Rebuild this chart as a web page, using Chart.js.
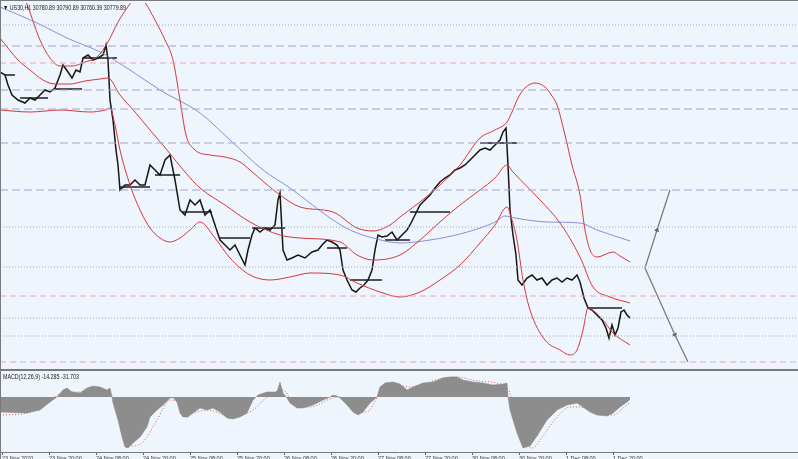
<!DOCTYPE html>
<html>
<head>
<meta charset="utf-8">
<script src="https://cdn.jsdelivr.net/npm/chart.js@4.4.1/dist/chart.umd.min.js"></script>
<style>
  html, body { margin: 0; padding: 0; width: 798px; height: 459px; overflow: hidden; background: #eff5fc; }
  canvas { position: absolute; left: 0; }
  #priceChart { top: 3px; }
  #macdChart { top: 371px; }
  .txt { position: absolute; font-family: "Liberation Sans", Arial, sans-serif; font-size: 7px; color: #1a1a1a;
         white-space: nowrap; transform-origin: left top; transform: scaleX(0.76); z-index: 5; }
  .rule { position: absolute; background: #7a7a7a; z-index: 4; }
</style>
</head>
<body>
<canvas id="priceChart" width="798" height="366"></canvas>
<canvas id="macdChart" width="798" height="100"></canvas>
<div class="rule" style="left:0;top:0;width:798px;height:1px;"></div>
<div class="rule" style="left:0;top:0;width:1px;height:459px;"></div>
<div class="rule" style="left:0;top:369px;width:798px;height:2px;"></div>
<div class="txt" style="left:3px;top:4px;">&#9660; US30,H1 30780.89 30790.89 30760.39 30779.89</div>
<div class="txt" style="left:3px;top:373px;">MACD(12,26,9) -14.285 -31.703</div>
<script>
// x = bar number (H1), y = price
const closeBars = [0, 1.25, 2, 3, 4.5, 6.25, 7.5, 8.75, 10, 11.25, 12.5, 13.75, 15, 15.75, 17, 18, 19, 20, 20.75, 22,
    23.25, 24.5, 25.75, 26.5, 27, 27.5, 28.25, 29, 29.5, 30, 31.25, 32.5, 33.75, 35, 36.25, 37.5, 38.75, 40, 41.25, 42.5,
    43.75, 45, 46.25, 47.5, 48.75, 50, 51.25, 52.5, 53.75, 55, 56.25, 57.5, 58.75, 60, 61.25, 62, 63, 63.75, 65, 66.25,
    67.5, 68.75, 69.5, 70, 70.75, 71.75, 73, 74.5, 76.25, 78, 79.5, 80.5, 81.75, 83, 84.25, 85, 85.75, 86.75, 88, 89,
    90, 91, 92, 93, 93.75, 94.5, 95.5, 96.75, 98, 99.25, 100.5, 101.75, 102.5, 103.75, 105, 106.25, 107.5, 108.75, 110, 111.25,
    112.5, 113.75, 115, 116.25, 117.5, 118.75, 120, 121.25, 122.5, 123.75, 125, 125.75, 126.5, 127, 127.5, 128.25, 129, 129.5,
    130.5, 131.75, 133, 134.25, 135.5, 136.75, 138, 139.25, 140.5, 141.75, 143, 144.25, 145, 146, 147, 148, 149.25, 150.5,
    151.5, 152.25, 153, 153.75, 154.5, 155.25, 156, 156.75, 157.5];
const closePrices = [32010, 31995, 31945, 31895, 31870, 31855, 31880, 31870, 31895, 31920, 31910, 31930, 31995, 32045, 32010, 31980, 32020, 32010, 32080, 32095,
    32070, 32080, 32095, 32145, 32070, 31870, 31770, 31620, 31545, 31420, 31445, 31445, 31470, 31445, 31445, 31545, 31520, 31495, 31570, 31595,
    31470, 31320, 31295, 31370, 31345, 31370, 31295, 31320, 31245, 31170, 31145, 31120, 31145, 31095, 31045, 31120, 31195, 31230, 31210, 31230,
    31220, 31245, 31370, 31405, 31120, 31070, 31080, 31095, 31080, 31110, 31120, 31145, 31170, 31160, 31145, 31120, 31020, 30970, 30920, 30910,
    30930, 30945, 30970, 31020, 31120, 31195, 31185, 31190, 31210, 31170, 31195, 31220, 31245, 31295, 31345, 31370, 31395, 31430, 31460, 31480,
    31495, 31520, 31530, 31545, 31570, 31595, 31620, 31630, 31620, 31645, 31670, 31710, 31730, 31545, 31320, 31195, 31095, 30970,
    30945, 30980, 30995, 30970, 30980, 30945, 30970, 30980, 30960, 30980, 30970, 30995, 30960, 30880, 30830, 30820, 30795, 30770,
    30730, 30680, 30745, 30695, 30730, 30810, 30820, 30795, 30780];

// Bollinger bands (20)
const upperBars = [2.5, 6.25, 10, 12.5, 15, 18, 21.25, 24.25, 27, 29.5, 31.75, 33.25, 34.5, 35.75, 38.75, 41.25, 43.25, 45, 46.5, 48.75,
    52.5, 56.25, 60, 62.5, 66.25, 70, 75, 83.25, 89.25, 93.25, 97.5, 100, 105, 110, 115, 120, 123.75, 126.75, 128, 129.5,
    131.25, 133.75, 136.25, 138, 139.25, 141.25, 143, 145, 146.25, 147.5, 149.25, 153.25, 155, 157.5];
const upperBand = [32470, 32370, 32170, 32080, 32040, 32040, 32060, 32085, 32160, 32260, 32330, 32370, 32385, 32370, 32270, 32170, 32070, 31870, 31695, 31620,
    31595, 31585, 31560, 31520, 31455, 31395, 31335, 31310, 31230, 31215, 31245, 31285, 31360, 31445, 31545, 31680, 31720, 31760, 31810, 31880,
    31930, 31955, 31935, 31890, 31845, 31695, 31545, 31395, 31220, 31120, 31085, 31110, 31090, 31060];
const middleBars = [0, 4.5, 7.5, 10.75, 13.75, 17.5, 21.25, 25, 27, 30, 33.75, 37.5, 41.75, 46.25, 50, 56.25, 62.5, 70, 75, 85,
    89.25, 93.25, 100, 105, 110, 115, 120, 123.75, 126.75, 128.25, 135, 140, 145, 148.25, 152.5, 157.5];
const middleBand = [32180, 32070, 32020, 31970, 31950, 31950, 31965, 31975, 31980, 31895, 31810, 31720, 31620, 31510, 31430, 31345, 31260, 31195, 31180, 31160,
    31095, 31070, 31095, 31170, 31260, 31345, 31420, 31480, 31545, 31510, 31370, 31255, 31085, 30935, 30885, 30855];
const lowerBars = [0, 7.5, 15, 22.5, 26.25, 27.5, 28.75, 30, 32.5, 35, 37.5, 40, 42.5, 45, 47.5, 50, 53.75, 57.5, 62.5, 67.5,
    72.5, 77.5, 85, 89.25, 95, 100, 105, 110, 115, 120, 123.75, 126.75, 128, 129.25, 130.75, 132.5, 136.25, 140, 142.5, 144.25,
    145.75, 147, 148.75, 150.75, 153.25, 157.5];
const lowerBand = [31820, 31810, 31820, 31810, 31820, 31830, 31745, 31620, 31445, 31320, 31230, 31180, 31160, 31180, 31220, 31260, 31180, 31080, 30995, 30970,
    30985, 31005, 30995, 30955, 30910, 30885, 30910, 30970, 31045, 31155, 31245, 31335, 31270, 31170, 30970, 30820, 30670, 30620, 30595, 30620,
    30720, 30830, 30810, 30770, 30705, 30645];

// slow moving average
const maBars = [0, 8.75, 16.75, 25, 32.5, 40, 50, 57.5, 65.75, 72.5, 77.5, 82.5, 87.5, 93.25, 100, 107.5, 115, 120, 123.75, 126.25,
    128.75, 136.75, 145, 149.25, 157.5];
const maValues = [32335, 32260, 32180, 32110, 32020, 31920, 31805, 31670, 31520, 31430, 31355, 31280, 31220, 31180, 31155, 31170, 31200, 31230, 31260, 31290,
    31280, 31260, 31255, 31220, 31165];

// black horizontal segments
const stepStart = [1.25, 5, 13.75, 20.75, 30, 38.75, 45.5, 55, 63, 81.75, 87.5, 96.25, 102.5, 120, 147];
const stepEnd = [3.75, 12, 20.5, 29.25, 37.5, 45, 53, 62.5, 71.25, 86.75, 95.5, 102.5, 112.5, 129.25, 155.5];
const stepPrice = [31995, 31880, 31925, 32080, 31435, 31495, 31310, 31180, 31230, 31130, 30970, 31170, 31310, 31655, 30830];

// horizontal levels
const dottedLevels = [32245, 31235, 31035, 30780, 30690];
const dashedLevels = [32140, 31920, 31825, 31655, 31420];
const pinkLevels = [32055, 30890, 30560];

// projection arrows (start, marker, end)
const upArrowBars = [161.25, 164.25, 167.5];
const upArrowPrices = [31030, 31220, 31420];
const downArrowBars = [161.25, 168.75, 172];
const downArrowPrices = [31030, 30695, 30560];

// MACD(12,26,9)
const histBars = [0, 6.75, 10, 12.5, 14.25, 15.75, 16.75, 18, 20, 21.75, 23.25, 25, 26.75, 27.5, 28, 28.25, 29.5, 30.5, 31.25, 32,
    33.25, 35, 36.75, 37.5, 39.25, 40.75, 42.5, 43.25, 44.25, 45, 45.75, 47, 48.25, 50, 51.75, 53.25, 55, 56.75, 58.25, 60,
    61.75, 63.25, 64.5, 66.75, 69.25, 70, 70.75, 71.75, 72.5, 74.25, 75.75, 78.25, 80.75, 82.5, 83.25, 84.25, 85, 86.75, 88.25, 89.5,
    90.75, 92.5, 94.25, 95, 96.25, 98.25, 100, 101.75, 103.25, 105.75, 108.25, 110.75, 112.5, 114.25, 115.75, 118.25, 120.75, 123.25, 125.75, 126.75,
    127, 127.5, 129.25, 130.75, 132.5, 134.25, 136.75, 139.25, 141.75, 144.25, 145.75, 147.5, 149.25, 151.75, 153.25, 155, 156.75, 157.5];
const histValues = [-90, -96, -78, -30, 0, 42, 54, 30, 24, 54, 66, 60, 42, 54, 0, -36, -138, -240, -300, -306,
    -276, -240, -180, -120, -78, -48, -6, -3, -30, -96, -120, -120, -96, -66, -78, -66, -90, -126, -132, -120,
    -96, -18, 12, 30, 30, 90, 24, -6, -36, -66, -66, -48, -18, 0, 12, 6, -6, -48, -90, -108,
    -90, -36, 0, 60, 84, 90, 78, 42, 60, 84, 90, 114, 120, 120, 102, 90, 84, 72, 78, 84,
    0, -78, -216, -306, -294, -234, -138, -78, -48, -36, -60, -90, -108, -114, -96, -60, -30, -14.285];
const signalBars = [0, 6.75, 12.5, 15.75, 20, 26.75, 28.25, 30.75, 32.5, 35.75, 39.25, 42.5, 45, 47.5, 51.75, 58.25, 63.25, 66.75, 70.75, 73.25,
    77.5, 82.5, 85, 89.25, 91.75, 94.25, 96.75, 102.5, 110.75, 114.25, 119.25, 125.75, 127.5, 130.75, 133.25, 135, 139.25, 142.5, 145, 149.25,
    153.25, 155.75, 157.5];
const signalValues = [-108, -96, -18, 24, 30, 24, 0, -168, -294, -270, -138, -18, -36, -96, -78, -120, -78, 0, 42, -36,
    -60, -12, 0, -90, -90, -6, 84, 60, 114, 120, 96, 72, 24, -240, -306, -258, -120, -60, -60, -96,
    -108, -66, -31.703];

// time axis
const tickBars = [0.5, 12.25, 24, 35.75, 47.5, 59.25, 71, 82.75, 94.5, 106.25, 118, 129.75, 141.5, 153.25];
const tickLabels = ["23 Nov 2020", "23 Nov 20:00", "24 Nov 08:00", "24 Nov 20:00", "25 Nov 08:00", "25 Nov 20:00", "26 Nov 08:00",
    "26 Nov 20:00", "27 Nov 08:00", "27 Nov 20:00", "30 Nov 08:00", "30 Nov 20:00", "1 Dec 08:00", "1 Dec 20:00"];

const LAST_BAR = 199.5;

function pts(xs, ys) {
    return xs.map((x, i) => ({ x: x, y: ys[i] }));
}

function levelLine(price, color, dash) {
    return {
        data: [{ x: 0, y: price }, { x: LAST_BAR, y: price }],
        borderColor: color, borderWidth: 1, borderDash: dash, pointRadius: 0
    };
}

// segments separated by gaps
const stepData = [];
stepStart.forEach((s, i) => {
    stepData.push({ x: s, y: stepPrice[i] }, { x: stepEnd[i], y: stepPrice[i] }, { x: stepEnd[i], y: null });
});

const priceSets = [];
dottedLevels.forEach(p => priceSets.push(levelLine(p, "#a3a8c2", [1, 2])));
dashedLevels.forEach(p => priceSets.push(levelLine(p, "#a0a4cc", [8, 4])));
pinkLevels.forEach(p => priceSets.push(levelLine(p, "#e6a9b8", [6, 4])));

const bandStyle = { borderColor: "#d2383c", borderWidth: 1, pointRadius: 0, cubicInterpolationMode: "monotone" };
priceSets.push(Object.assign({ data: pts(upperBars, upperBand) }, bandStyle));
priceSets.push(Object.assign({ data: pts(middleBars, middleBand) }, bandStyle));
priceSets.push(Object.assign({ data: pts(lowerBars, lowerBand) }, bandStyle));
priceSets.push({ data: pts(maBars, maValues), borderColor: "#8c8cd6", borderWidth: 1, pointRadius: 0, cubicInterpolationMode: "monotone" });
priceSets.push({ data: stepData, borderColor: "#1e1e1e", borderWidth: 1.5, pointRadius: 0, spanGaps: false });
priceSets.push({ data: pts(closeBars, closePrices), borderColor: "#151515", borderWidth: 1.5, pointRadius: 0 });
priceSets.push({
    data: pts(upArrowBars, upArrowPrices), borderColor: "#767676", borderWidth: 1.2,
    pointRadius: [0, 3, 0], pointStyle: "triangle", pointRotation: 18, pointBackgroundColor: "#666", pointBorderWidth: 0
});
priceSets.push({
    data: pts(downArrowBars, downArrowPrices), borderColor: "#767676", borderWidth: 1.2,
    pointRadius: [0, 3, 0], pointStyle: "triangle", pointRotation: 155, pointBackgroundColor: "#666", pointBorderWidth: 0
});

new Chart(document.getElementById("priceChart"), {
    type: "line",
    data: { datasets: priceSets },
    options: {
        responsive: false,
        animation: false,
        devicePixelRatio: 1,
        layout: { padding: 0 },
        plugins: { legend: { display: false }, tooltip: { enabled: false } },
        elements: { line: { tension: 0 } },
        scales: {
            x: { type: "linear", display: false, min: 0, max: LAST_BAR },
            y: { display: false, min: 30525, max: 32355 }
        }
    }
});

new Chart(document.getElementById("macdChart"), {
    type: "line",
    data: {
        datasets: [
            {
                data: pts(histBars, histValues), fill: "origin", backgroundColor: "#8d8d8d",
                borderColor: "#858585", borderWidth: 0.5, pointRadius: 0
            },
            {
                data: pts(signalBars, signalValues), borderColor: "#e05a5a", borderWidth: 1,
                borderDash: [1, 2], pointRadius: 0, cubicInterpolationMode: "monotone"
            }
        ]
    },
    options: {
        responsive: false,
        animation: false,
        devicePixelRatio: 1,
        layout: { padding: 0 },
        plugins: { legend: { display: false }, tooltip: { enabled: false } },
        elements: { line: { tension: 0 } },
        scales: {
            x: {
                type: "linear", min: 0, max: LAST_BAR,
                afterBuildTicks: s => { s.ticks = tickBars.map(v => ({ value: v })); },
                afterFit: s => { s.height = 19; },
                ticks: {
                    align: "start", autoSkip: false, maxRotation: 0, padding: 0, color: "#333",
                    font: { family: "Liberation Sans", size: 5.5 },
                    callback: (v, i) => tickLabels[i]
                },
                grid: { drawOnChartArea: false, tickLength: 3, color: "#666" },
                border: { color: "#7a7a7a", width: 1 }
            },
            y: { display: false, min: -330, max: 156 }
        }
    }
});
</script>
</body>
</html>
